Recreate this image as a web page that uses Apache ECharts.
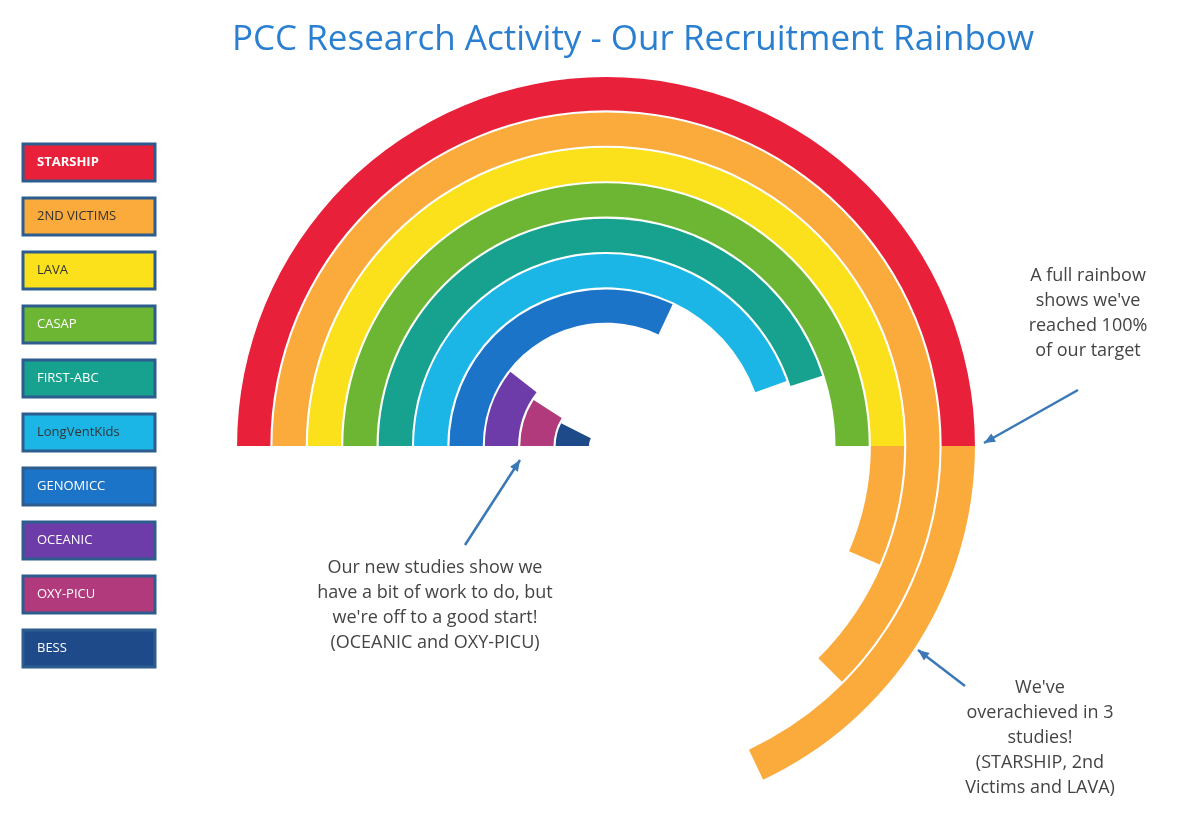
<!DOCTYPE html>
<html><head><meta charset="utf-8">
<script src="https://cdn.jsdelivr.net/npm/echarts@6/dist/echarts.min.js"></script>
<style>html,body{margin:0;background:#fff}#c{width:1200px;height:829px}</style>
</head><body><div id="c"></div>
<script>
// studies from outer ring to inner ring
const studies = ['STARSHIP','2ND VICTIMS','LAVA','CASAP','FIRST-ABC','LongVentKids','GENOMICC','OCEANIC','OXY-PICU','BESS'];
const percentOfTarget = [136, 125, 113, 100, 90, 89, 64, 21, 18, 15];
const ringColors = ['#e8203a','#fbaa3c','#fbe11c','#6cb633','#17a28f','#1cb6e6','#1c74c9','#6e3ca9','#b03a7b','#1f4a8a'];
const legendTextColors = ['#fff','#333','#333','#fff','#fff','#333','#fff','#fff','#fff','#fff'];
const overflowColor = '#fbaa3c';

const cats = studies.slice().reverse();
const base = percentOfTarget.map(v => Math.min(v, 100)).reverse();
const extra = percentOfTarget.map(v => Math.max(v - 100, 0)).reverse();
const cols = ringColors.slice().reverse();

const graphics = [];
studies.forEach((s, i) => {
  graphics.push({type:'rect', shape:{x:23, y:144 + i*54, width:132, height:37},
    style:{fill:ringColors[i], stroke:'#2d5d8e', lineWidth:3}});
  graphics.push({type:'text', x:37, y:162 + i*54,
    style:{text:s, fill:legendTextColors[i], font:(i===0?'bold ':'')+'13px "Open Sans"', verticalAlign:'middle'}});
});
const txt = (x, y, t) => ({type:'text', x, y, style:{text:t, fill:'#444', font:'18px "Open Sans"', align:'center', lineHeight:25}});
graphics.push(txt(1088, 263, "A full rainbow\nshows we've\nreached 100%\nof our target"));
graphics.push(txt(435, 555, "Our new studies show we\nhave a bit of work to do, but\nwe're off to a good start!\n(OCEANIC and OXY-PICU)"));
graphics.push(txt(1040, 675, "We've\noverachieved in 3\nstudies!\n(STARSHIP, 2nd\nVictims and LAVA)"));
const arrow = (x1,y1,x2,y2) => {
  const a = Math.atan2(y2-y1, x2-x1), L = 12;
  graphics.push({type:'line', shape:{x1,y1,x2,y2}, style:{stroke:'#3a78b8', lineWidth:2.5}});
  graphics.push({type:'polygon', shape:{points:[[x2,y2],[x2-L*Math.cos(a-0.4),y2-L*Math.sin(a-0.4)],[x2-L*Math.cos(a+0.4),y2-L*Math.sin(a+0.4)]]}, style:{fill:'#3a78b8'}});
};
arrow(1078, 390, 984, 443);
arrow(465, 545, 520, 460);
arrow(965, 686, 918, 650);

const chart = echarts.init(document.getElementById('c'));
chart.setOption({
  animation:false,
  title:{text:'PCC Research Activity - Our Recruitment Rainbow', left:628, top:18, textAlign:'center',
    textStyle:{color:'#2a7fd0', fontSize:35, fontWeight:'normal', fontFamily:'Open Sans'}},
  polar:{center:[606, 446], radius:[16, 370]},
  angleAxis:{type:'value', min:0, max:200, startAngle:180, clockwise:true, show:false},
  radiusAxis:{type:'category', data:cats, show:false},
  series:[
    {type:'bar', coordinateSystem:'polar', stack:'a', barCategoryGap:'6%',
     data:base.map((v,i)=>({value:v, itemStyle:{color:cols[i]}}))},
    {type:'bar', coordinateSystem:'polar', stack:'a', barCategoryGap:'6%',
     data:extra, itemStyle:{color:overflowColor}}
  ],
  graphic:graphics
});
</script></body></html>
